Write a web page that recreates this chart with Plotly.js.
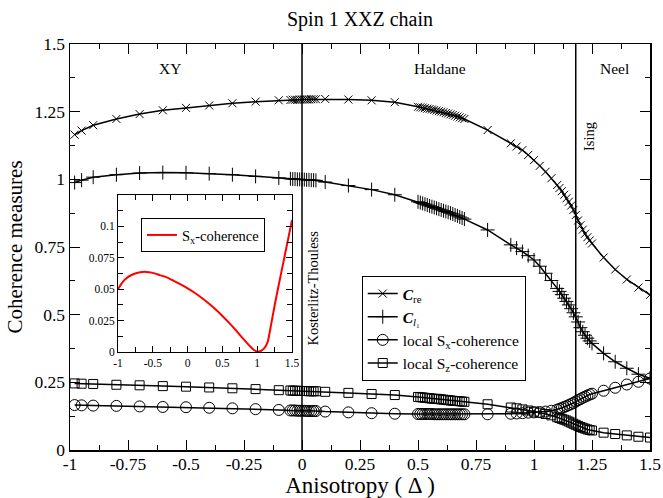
<!DOCTYPE html>
<html>
<head>
<meta charset="utf-8">
<script src="https://cdn.plot.ly/plotly-3.0.1.min.js"></script>
<style>html,body{margin:0;padding:0;background:#fff;}#chart{width:663px;height:498px;}</style>
</head>
<body>
<div id="chart"></div>
<script>
// Anisotropy values (shared by the four main curves)
var delta = [-0.98, -0.95, -0.9, -0.8, -0.7, -0.6, -0.5, -0.4, -0.3, -0.2, -0.1,
  -0.05, -0.04, -0.03, -0.02, -0.01, 0, 0.01, 0.02, 0.03, 0.04, 0.05, 0.06,
  0.1, 0.2, 0.3, 0.4,
  0.5, 0.51, 0.52, 0.53, 0.54, 0.55, 0.56, 0.57, 0.58, 0.59, 0.6, 0.61, 0.62, 0.63, 0.64, 0.65, 0.66, 0.67, 0.68, 0.69, 0.7,
  0.8, 0.9, 0.925, 0.95, 0.975, 1.0, 1.025, 1.05, 1.075,
  1.1, 1.11, 1.12, 1.13, 1.14, 1.15, 1.16, 1.17, 1.18, 1.19, 1.2, 1.21, 1.22, 1.23, 1.24, 1.25,
  1.3, 1.35, 1.4, 1.45, 1.5];

var cRe = [1.165, 1.18, 1.20, 1.223, 1.241, 1.255, 1.264, 1.273, 1.281, 1.287, 1.292,
  1.293, 1.294, 1.294, 1.294, 1.295, 1.295, 1.295, 1.295, 1.295, 1.296, 1.296, 1.296,
  1.297, 1.295, 1.292, 1.285,
  1.268, 1.266, 1.265, 1.263, 1.261, 1.260, 1.258, 1.256, 1.254, 1.252, 1.250, 1.248, 1.245, 1.243, 1.240, 1.238, 1.235, 1.232, 1.229, 1.226, 1.223,
  1.182, 1.133, 1.121, 1.108, 1.090, 1.071, 1.050, 1.028, 1.004,
  0.979, 0.968, 0.956, 0.943, 0.930, 0.917, 0.903, 0.887, 0.868, 0.848, 0.830, 0.814, 0.799, 0.786, 0.774, 0.763,
  0.711, 0.667, 0.630, 0.600, 0.573];

var cL1 = [0.988, 0.997, 1.008, 1.017, 1.023, 1.025, 1.024, 1.021, 1.017, 1.011, 1.005,
  1.002, 1.001, 1.001, 1.000, 1.000, 0.999, 0.999, 0.998, 0.998, 0.997, 0.997, 0.996,
  0.990, 0.977, 0.962, 0.943,
  0.917, 0.914, 0.911, 0.908, 0.905, 0.902, 0.899, 0.896, 0.893, 0.890, 0.887, 0.884, 0.881, 0.878, 0.875, 0.872, 0.868, 0.865, 0.861, 0.857, 0.853,
  0.813, 0.758, 0.746, 0.733, 0.718, 0.702, 0.679, 0.653, 0.626,
  0.597, 0.586, 0.574, 0.561, 0.549, 0.536, 0.522, 0.507, 0.492, 0.473, 0.452, 0.437, 0.424, 0.413, 0.403, 0.394,
  0.357, 0.326, 0.302, 0.280, 0.265];

var sxLocal = [0.166, 0.165, 0.164, 0.163, 0.161, 0.159, 0.158, 0.156, 0.154, 0.151, 0.148,
  0.146, 0.146, 0.146, 0.145, 0.145, 0.145, 0.145, 0.144, 0.144, 0.144, 0.144, 0.144,
  0.142, 0.139, 0.136, 0.134,
  0.133, 0.133, 0.133, 0.133, 0.133, 0.133, 0.133, 0.132, 0.132, 0.132, 0.132, 0.132, 0.132, 0.132, 0.132, 0.132, 0.132, 0.132, 0.132, 0.132, 0.132,
  0.132, 0.134, 0.135, 0.136, 0.138, 0.139, 0.140, 0.142, 0.145,
  0.149, 0.152, 0.155, 0.159, 0.162, 0.166, 0.170, 0.174, 0.179, 0.184, 0.188, 0.193, 0.197, 0.201, 0.205, 0.208,
  0.219, 0.230, 0.242, 0.252, 0.264];

var szLocal = [0.246, 0.245, 0.244, 0.241, 0.239, 0.236, 0.234, 0.231, 0.228, 0.225, 0.221,
  0.220, 0.219, 0.219, 0.219, 0.218, 0.218, 0.218, 0.218, 0.217, 0.217, 0.217, 0.217,
  0.215, 0.211, 0.207, 0.203,
  0.196, 0.195, 0.194, 0.193, 0.192, 0.191, 0.190, 0.189, 0.189, 0.188, 0.187, 0.186, 0.185, 0.184, 0.183, 0.182, 0.181, 0.181, 0.180, 0.179, 0.178,
  0.169, 0.157, 0.154, 0.150, 0.146, 0.142, 0.138, 0.133, 0.128,
  0.121, 0.118, 0.115, 0.112, 0.109, 0.105, 0.101, 0.097, 0.093, 0.089, 0.085, 0.082, 0.079, 0.076, 0.074, 0.072,
  0.064, 0.059, 0.054, 0.049, 0.046];

// Inset: S_x-coherence
var insetDelta = [-1, -0.95, -0.9, -0.8, -0.7, -0.6, -0.5, -0.4, -0.3, -0.2, -0.1, 0, 0.1, 0.2, 0.3, 0.4, 0.5, 0.6, 0.7, 0.8, 0.9, 0.95, 1.0, 1.05, 1.1, 1.15, 1.2, 1.25, 1.3, 1.4, 1.5];
var insetSx = [0.050, 0.0545, 0.0578, 0.0615, 0.0633, 0.0638, 0.063, 0.0612, 0.0594, 0.0567, 0.0538, 0.0507, 0.0472, 0.0432, 0.0388, 0.034, 0.0287, 0.023, 0.0169, 0.0105, 0.0044, 0.0018, 0.0002, 0.0008, 0.0028, 0.008, 0.022, 0.037, 0.051, 0.078, 0.105];

// Tick labels
var xTickVals = [-1, -0.75, -0.5, -0.25, 0, 0.25, 0.5, 0.75, 1, 1.25, 1.5];
var xTickText = ['-1', '-0.75', '-0.5', '-0.25', '0', '0.25', '0.5', '0.75', '1', '1.25', '1.5'];
var yTickVals = [0, 0.25, 0.5, 0.75, 1, 1.25, 1.5];
var yTickText = ['0', '0.25', '0.5', '0.75', '1', '1.25', '1.5'];
var insetXTickVals = [-1, -0.5, 0, 0.5, 1, 1.5];
var insetXTickText = ['-1', '-0.5', '0', '0.5', '1', '1.5'];
var insetYTickVals = [0, 0.025, 0.05, 0.075, 0.1];
var insetYTickText = ['0', '0.025', '0.05', '0.075', '0.1'];

var serif = 'Liberation Serif, Times New Roman, serif';

function mainTrace(y, name, symbol, size) {
  return {
    x: delta, y: y, name: name, type: 'scatter', mode: 'lines+markers',
    line: {color: 'black', width: 1.5},
    marker: {symbol: symbol, size: size, color: 'black', line: {color: 'black', width: 1}},
    xaxis: 'x', yaxis: 'y', legend: 'legend'
  };
}

var traces = [
  mainTrace(cRe, '<b><i>C</i></b><sub>re</sub>', 'x-thin-open', 8),
  mainTrace(cL1, '<b><i>C</i></b><sub><i>l</i>₁</sub>', 'cross-thin-open', 10),
  mainTrace(sxLocal, 'local S<sub>x</sub>-coherence', 'circle-open', 11),
  mainTrace(szLocal, 'local S<sub>z</sub>-coherence', 'square-open', 9),
  {
    x: insetDelta, y: insetSx, name: 'S<sub>x</sub>-coherence', type: 'scatter', mode: 'lines',
    line: {color: '#ff0000', width: 2, shape: 'spline', smoothing: 0.6},
    xaxis: 'x2', yaxis: 'y2', legend: 'legend2'
  }
];

var axisCommon = {
  showline: true, linecolor: 'black', linewidth: 1.5, mirror: 'ticks',
  ticks: 'inside', tickcolor: 'black', tickwidth: 1,
  showgrid: false, zeroline: false, tickmode: 'array'
};

var layout = {
  width: 663, height: 498,
  margin: {l: 70, r: 13, t: 44, b: 48},
  paper_bgcolor: 'white', plot_bgcolor: 'white',
  font: {family: serif, color: 'black'},
  title: {text: 'Spin 1 XXZ chain', font: {family: serif, size: 20, color: 'black'}, x: 0.543, xanchor: 'center', y: 0.962, yanchor: 'middle'},
  xaxis: Object.assign({}, axisCommon, {
    domain: [0, 1], range: [-1, 1.5], tickvals: xTickVals, ticktext: xTickText, ticklen: 10,
    ticklabelstandoff: -3,
    minor: {ticks: 'inside', ticklen: 5, dtick: 0.125, tick0: 0, tickcolor: 'black', showgrid: false},
    tickfont: {family: serif, size: 17.5, color: 'black'},
    title: {text: 'Anisotropy ( Δ )', font: {family: serif, size: 23, color: 'black'}, standoff: 5}
  }),
  yaxis: Object.assign({}, axisCommon, {
    domain: [0, 1], range: [0, 1.5], tickvals: yTickVals, ticktext: yTickText, ticklen: 10,
    minor: {ticks: 'inside', ticklen: 5, dtick: 0.125, tick0: 0, tickcolor: 'black', showgrid: false},
    tickfont: {family: serif, size: 17.5, color: 'black'},
    title: {text: 'Coherence measures', font: {family: serif, size: 21, color: 'black'}, standoff: 6}
  }),
  xaxis2: Object.assign({}, axisCommon, {
    domain: [0.0828, 0.3828], anchor: 'y2', range: [-1, 1.5],
    tickvals: insetXTickVals, ticktext: insetXTickText, ticklen: 6, linewidth: 1,
    minor: {ticks: 'inside', ticklen: 5, dtick: 0.25, tick0: 0, tickcolor: 'black', showgrid: false},
    tickfont: {family: serif, size: 11.5, color: 'black'}
  }),
  yaxis2: Object.assign({}, axisCommon, {
    domain: [0.2414, 0.628], anchor: 'x2', range: [0, 0.125],
    tickvals: insetYTickVals, ticktext: insetYTickText, ticklen: 6, linewidth: 1,
    minor: {ticks: 'inside', ticklen: 5, dtick: 0.0125, tick0: 0, tickcolor: 'black', showgrid: false},
    tickfont: {family: serif, size: 11.5, color: 'black'}
  }),
  legend: {
    x: 0.503, y: 0.4286, xanchor: 'left', yanchor: 'top',
    bgcolor: 'white', bordercolor: 'black', borderwidth: 1,
    font: {family: serif, size: 15.5, color: 'black'}, itemwidth: 30, tracegroupgap: 0
  },
  legend2: {
    x: 0.1224, y: 0.5714, xanchor: 'left', yanchor: 'top',
    bgcolor: 'white', bordercolor: 'black', borderwidth: 1,
    font: {family: serif, size: 14.5, color: 'black'}, itemwidth: 30
  },
  shapes: [
    {type: 'line', xref: 'x', yref: 'y', x0: 0, x1: 0, y0: 0, y1: 1.5, line: {color: 'black', width: 1.5}},
    {type: 'line', xref: 'x', yref: 'y', x0: 1.18, x1: 1.18, y0: 0, y1: 1.5, line: {color: 'black', width: 1.5}}
  ],
  annotations: [
    {text: 'XY', x: -0.57, y: 1.41, xref: 'x', yref: 'y', showarrow: false, font: {family: serif, size: 15.5, color: 'black'}},
    {text: 'Haldane', x: 0.595, y: 1.41, xref: 'x', yref: 'y', showarrow: false, font: {family: serif, size: 15.5, color: 'black'}},
    {text: 'Neel', x: 1.345, y: 1.41, xref: 'x', yref: 'y', showarrow: false, font: {family: serif, size: 15.5, color: 'black'}},
    {text: 'Ising', x: 1.237, y: 1.16, xref: 'x', yref: 'y', showarrow: false, textangle: -90, font: {family: serif, size: 14.5, color: 'black'}},
    {text: 'Kosterlitz-Thouless', x: 0.047, y: 0.6, xref: 'x', yref: 'y', showarrow: false, textangle: -90, font: {family: serif, size: 14.5, color: 'black'}}
  ]
};

Plotly.newPlot('chart', traces, layout, {displayModeBar: false, staticPlot: true});
</script>
</body>
</html>
